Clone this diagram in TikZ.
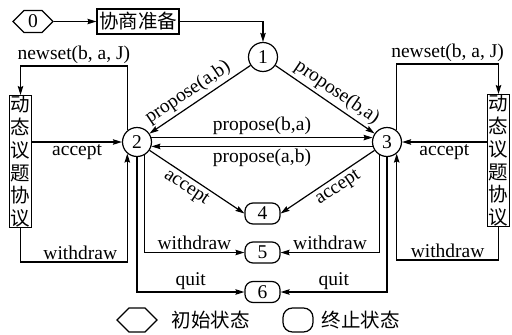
\documentclass[tikz,border=0pt]{standalone}
\usepackage{fontspec}
\setmainfont{Liberation Serif}
\newfontfamily\cjk{Noto Sans CJK SC}
\usetikzlibrary{arrows.meta,shapes.symbols,calc}

\begin{document}
\begin{tikzpicture}[x=1pt,y=-1pt,line width=1.2pt,
  every node/.style={font=\fontsize{19.5}{23}\selectfont},
  arr/.style={-{Stealth[length=9pt,width=5.5pt,inset=1.2pt]}},
  state/.style={circle,draw,minimum size=29pt,inner sep=0pt},
  final/.style={rectangle,draw,rounded corners=8pt,minimum width=35pt,minimum height=21pt,inner sep=0pt},
  start/.style={signal,signal to=east and west,draw,minimum width=40pt,minimum height=22pt,inner sep=0pt},
  cjkbox/.style={draw,inner sep=2pt,font=\cjk\fontsize{19.5}{23}\selectfont},
  vbox/.style={draw,inner xsep=1.5pt,inner ysep=0pt,align=center,font=\cjk\fontsize{19.5}{22.8}\selectfont},
  lbl/.style={inner sep=2pt},
  slbl/.style={inner sep=3pt,sloped}]
\useasboundingbox (0,0) rectangle (512,335);

% states and boxes
\node[start] (s0) at (33,21.5) {0};
\node[cjkbox,minimum height=25pt] (prep) at (138,21.5) {协商准备};
\node[state] (c1) at (263,57) {1};
\node[state] (c2) at (137,142) {2};
\node[state] (c3) at (387,142) {3};
\node[final] (n4) at (262.5,213.5) {4};
\node[final] (n5) at (262.5,252.5) {5};
\node[final] (n6) at (262.5,292) {6};
\node[vbox] (boxL) at (20.5,161.5) {动\\态\\议\\题\\协\\议};
\node[vbox] (boxR) at (498.5,160.5) {动\\态\\议\\题\\协\\议};

% corner points of the side loops
\coordinate (nsL) at (20.5,66);
\coordinate (nsR) at (498.5,64);
\coordinate (yL) at (0,262);
\coordinate (yR) at (0,260);

% start sequence
\draw[arr] (s0.east) -- (prep.west);
\draw[arr] (prep.east) -| (c1.north);

% proposals
\draw[arr] (c1) -- node[slbl,above,pos=0.55] {propose(a,b)} (c2);
\draw[arr] (c1) -- node[slbl,above,pos=0.55] {propose(b,a)} (c3);
\draw[arr] (c2.17) -- node[lbl,above] {propose(b,a)} (c3.163);
\draw[arr] (c3.197) -- node[lbl,below] {propose(a,b)} (c2.343);

% acceptance
\draw[arr] (c2) -- node[slbl,below,pos=0.45] {accept} (n4.west);
\draw[arr] (c3) -- node[slbl,below,pos=0.45] {accept} (n4.east);

% withdraw and quit
\draw[arr] (c2.300) |- node[lbl,above,pos=0.75] {withdraw} (n5.west);
\draw[arr] (c3.240) |- node[lbl,above,pos=0.75] {withdraw} (n5.east);
\draw[arr] (c2.south) |- node[lbl,above,pos=0.75] {quit} (n6.west);
\draw[arr] (c3.south) |- node[lbl,above,pos=0.75] {quit} (n6.east);

% dynamic issue protocol, left
\draw[arr] (c2.130) |- node[lbl,above,pos=0.75] {newset(b, a, J)} (nsL) -- (boxL.north);
\draw[arr] (boxL.east |- c2) -- node[lbl,below] {accept} (c2.west);
\draw[arr] (boxL.south) |- node[lbl,above,pos=0.78] {withdraw} (c2.230 |- yL) -- (c2.230);

% dynamic issue protocol, right
\draw[arr] (c3.50) |- node[lbl,above,pos=0.75] {newset(b, a, J)} (nsR) -- (boxR.north);
\draw[arr] (boxR.west |- c3) -- node[lbl,below] {accept} (c3.east);
\draw[arr] (boxR.south) |- node[lbl,above,pos=0.75] {withdraw} (c3.310 |- yR) -- (c3.310);

% legend
\node[start,minimum height=24pt] (lg1) at (137,320) {};
\node[anchor=west,font=\cjk\fontsize{19.5}{23}\selectfont] (lt1) at (168,320) {初始状态};
\node[draw,rounded corners=9.5pt,minimum width=30pt,minimum height=24pt,inner sep=0pt] (lg2) at (298,320) {};
\node[anchor=west,font=\cjk\fontsize{19.5}{23}\selectfont] (lt2) at (318,320) {终止状态};
\end{tikzpicture}
\end{document}
